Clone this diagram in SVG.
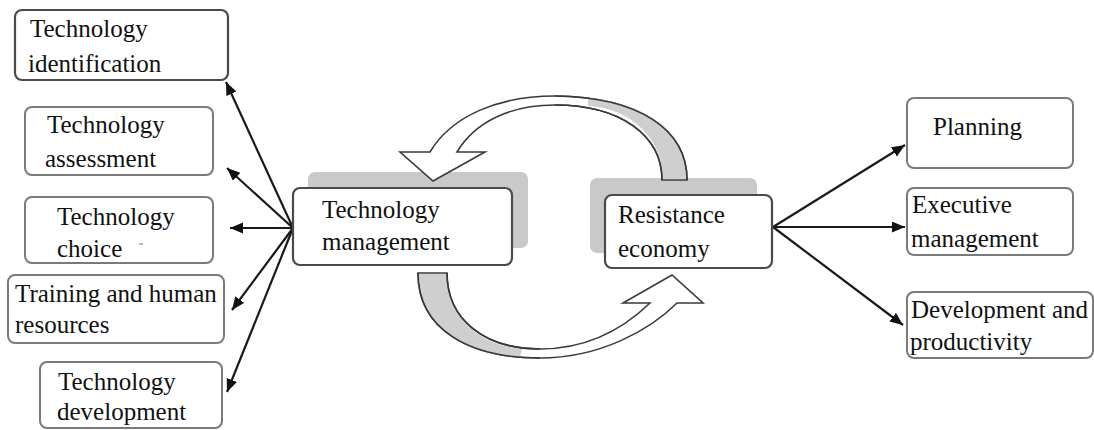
<svg xmlns="http://www.w3.org/2000/svg" width="1094" height="430" viewBox="0 0 1094 430">
  <defs>
    <marker id="head" markerUnits="userSpaceOnUse" markerWidth="14" markerHeight="12" refX="13" refY="5.5" orient="auto">
      <path d="M0,0 L13,5.5 L0,11 z" fill="#111"/>
    </marker>
    <style>
      .box { fill: #fff; stroke: #7a7a7a; stroke-width: 2; }
      .box-dark { fill: #fff; stroke: #4a4a4a; stroke-width: 2.2; }
      .shadow { fill: #c9c9c9; }
      .lbl { font-size: 25px; fill: #111; }
      .link { stroke: #1a1a1a; stroke-width: 2.2; fill: none; marker-end: url(#head); }
      .ribbon { fill: #fff; stroke: #3a3a3a; stroke-width: 1.6; stroke-linejoin: miter; }
      .ribbon-shade { fill: #cfcfcf; stroke: none; }
    </style>
  </defs>
  <rect width="1094" height="430" fill="#fff"/>

  <!-- drop shadows behind the two central boxes -->
  <rect class="shadow" x="308" y="172" width="220" height="76" rx="7"/>
  <rect class="shadow" x="590" y="178" width="167" height="75" rx="7"/>

  <g id="connectors">
    <!-- cycle arrow: Resistance economy back to Technology management -->
    <path class="ribbon" d="M687,180 C687,130 640,97 555,96 C500,96 452,115 430,152 L400,152 L433,181 L485,152 L457,152 C475,122 510,105 555,105 C620,105 662,135 662,180 Z"/>
    <path class="ribbon-shade" d="M588,98 C648,103 686,135 686,179 L663,179 C663,140 632,108 588,106 Z"/>
    <path d="M687,180 C687,130 640,97 555,96 M662,180 C662,135 620,105 555,105" fill="none" stroke="#3a3a3a" stroke-width="1.6"/>

    <!-- cycle arrow: Technology management to Resistance economy -->
    <path class="ribbon" d="M418,273 C418,330 470,358 540,358 C600,358 650,330 677,303 L703,303 L672,275 L623,303 L650,303 C620,332 585,349 540,349 C485,349 447,320 447,273 Z"/>
    <path class="ribbon-shade" d="M419,274 C419,320 455,352 520,357 L522,349 C472,344 446,310 446,274 Z"/>
    <path d="M418,273 C418,330 470,358 540,358 M447,273 C447,320 485,349 540,349" fill="none" stroke="#3a3a3a" stroke-width="1.6"/>

    <!-- fan out from Technology management -->
    <line class="link" x1="293" y1="228" x2="226" y2="82"/>
    <line class="link" x1="293" y1="228" x2="227" y2="168"/>
    <line class="link" x1="293" y1="228" x2="230" y2="228"/>
    <line class="link" x1="293" y1="228" x2="232" y2="310"/>
    <line class="link" x1="293" y1="228" x2="227" y2="392"/>

    <!-- fan out from Resistance economy -->
    <line class="link" x1="773" y1="227" x2="905" y2="145"/>
    <line class="link" x1="773" y1="227" x2="905" y2="227"/>
    <line class="link" x1="773" y1="227" x2="903" y2="325"/>
  </g>

  <g id="tech-identification">
    <rect class="box-dark" x="15" y="10" width="213" height="70" rx="7"/>
    <text class="lbl" font-family="Times New Roman" x="30" y="37">Technology</text>
    <text class="lbl" font-family="Times New Roman" x="28" y="72">identification</text>
  </g>

  <g id="tech-assessment">
    <rect class="box" x="25" y="107" width="188" height="68" rx="7"/>
    <text class="lbl" font-family="Times New Roman" x="47" y="133">Technology</text>
    <text class="lbl" font-family="Times New Roman" x="45" y="167">assessment</text>
  </g>

  <g id="tech-choice">
    <rect class="box" x="25" y="197" width="188" height="66" rx="7"/>
    <text class="lbl" font-family="Times New Roman" x="57" y="225">Technology</text>
    <text class="lbl" font-family="Times New Roman" x="57" y="257">choice</text>
    <line x1="139" y1="244" x2="143" y2="244" stroke="#888" stroke-width="1.2"/>
  </g>

  <g id="training">
    <rect class="box" x="8" y="275" width="216" height="68" rx="7"/>
    <text class="lbl" font-family="Times New Roman" x="15" y="302">Training and human</text>
    <text class="lbl" font-family="Times New Roman" x="15" y="333">resources</text>
  </g>

  <g id="tech-development">
    <rect class="box" x="40" y="362" width="182" height="66" rx="7"/>
    <text class="lbl" font-family="Times New Roman" x="58" y="390">Technology</text>
    <text class="lbl" font-family="Times New Roman" x="57" y="420">development</text>
  </g>

  <g id="tech-management">
    <rect class="box-dark" x="293" y="188" width="219" height="77" rx="7"/>
    <text class="lbl" font-family="Times New Roman" x="322" y="218">Technology</text>
    <text class="lbl" font-family="Times New Roman" x="322" y="250">management</text>
  </g>

  <g id="resistance-economy">
    <rect class="box-dark" x="605" y="195" width="167" height="73" rx="7"/>
    <text class="lbl" font-family="Times New Roman" x="618" y="223">Resistance</text>
    <text class="lbl" font-family="Times New Roman" x="618" y="257">economy</text>
  </g>

  <g id="planning">
    <rect class="box" x="907" y="98" width="166" height="70" rx="7"/>
    <text class="lbl" font-family="Times New Roman" x="933" y="135">Planning</text>
  </g>

  <g id="executive-management">
    <rect class="box" x="907" y="188" width="166" height="67" rx="7"/>
    <text class="lbl" font-family="Times New Roman" x="912" y="213">Executive</text>
    <text class="lbl" font-family="Times New Roman" x="911" y="247">management</text>
  </g>

  <g id="development-productivity">
    <rect class="box" x="907" y="292" width="186" height="66" rx="7"/>
    <text class="lbl" font-family="Times New Roman" x="911" y="318">Development and</text>
    <text class="lbl" font-family="Times New Roman" x="910" y="350">productivity</text>
  </g>
</svg>
